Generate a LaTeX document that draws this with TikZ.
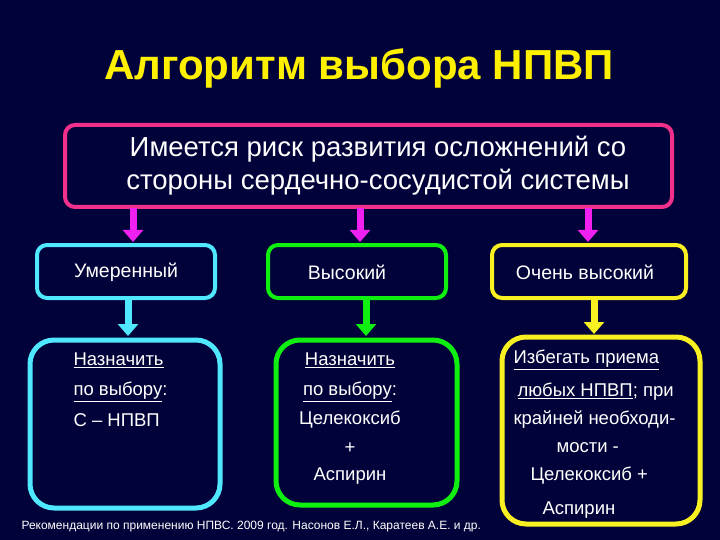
\documentclass[tikz,border=0pt]{standalone}
\usepackage{fontspec}
\setmainfont{Liberation Sans}
\usetikzlibrary{arrows.meta}
\definecolor{bg}{HTML}{02023A}
\definecolor{pk}{HTML}{F0308A}
\definecolor{mg}{HTML}{F020F0}
\definecolor{cy}{HTML}{50E8FF}
\definecolor{gr}{HTML}{10F010}
\definecolor{yl}{HTML}{F8F020}
\definecolor{ttl}{HTML}{FFF000}
\tikzset{
 bx/.style={draw=#1,line width=4pt,rounded corners=10pt,fill=bg},
 bbx/.style={draw=#1,line width=5pt,rounded corners=24pt,fill=bg},
 arr/.style={#1,line width=7pt,-{Triangle[width=20pt,length=12pt]}},
 tx/.style={text=white,font=\fontsize{18.5}{20}\selectfont},
 mx/.style={text=white,font=\fontsize{19.5}{22}\selectfont},
}
\begin{document}
\begin{tikzpicture}[x=1pt,y=-1pt]
\fill[bg] (0,0) rectangle (720,540);
\useasboundingbox (0,0) rectangle (720,540);
\node[text=ttl,font=\bfseries\fontsize{42}{46}\selectfont] (title) at (359,68) {Алгоритм выбора НПВП};
\draw[bx=pk] (65,125) rectangle (672,207);
\node[text=white,font=\fontsize{27.5}{33}\selectfont,align=center] (top) at (378,166) {Имеется риск развития осложнений со\\стороны сердечно-сосудистой системы};
\coordinate (t1) at (133,208); \coordinate (t2) at (360,208); \coordinate (t3) at (588,208);
\draw[bx=cy] (37,245) rectangle (215,298); \node[mx] (m1) at (126,272) {Умеренный};
\draw[bx=gr] (268,245) rectangle (446,298); \node[mx] (m2) at (347,272) {Высокий};
\draw[bx=yl] (492,245) rectangle (686,298); \node[mx] (m3) at (585,272) {Очень высокий};
\draw[arr=mg] (t1) -- (133,242);
\draw[arr=mg] (t2) -- (360,242);
\draw[arr=mg] (t3) -- (588,242);
\draw[bbx=cy] (30,340) rectangle (220,508);
\draw[bbx=gr] (276,340) rectangle (457,505);
\draw[bbx=yl] (502,337) rectangle (700,524);
\draw[arr=cy] (128,300) -- (128,336);
\draw[arr=gr] (366,300) -- (366,336);
\draw[arr=yl] (594,300) -- (594,334);
\node[tx,anchor=west] (c1) at (70,360) {\underline{Назначить}};
\node[tx,anchor=west] (c2) at (70,392) {\underline{по выбору}:};
\node[tx,anchor=west] (c3) at (70,420) {С – НПВП};
\node[tx] (g1) at (350,360) {\underline{Назначить}};
\node[tx] (g2) at (350,392) {\underline{по выбору}:};
\node[tx] (g3) at (350,420) {Целекоксиб};
\node[tx] (g4) at (350,448) {+};
\node[tx] (g5) at (350,476) {Аспирин};
\node[tx,anchor=west] (y1) at (510,360) {\underline{Избегать приема}};
\node[tx,anchor=west] (y2) at (514,392) {\underline{любых НПВП}; при};
\node[tx,anchor=west] (y3) at (510,420) {крайней необходи-};
\node[tx,anchor=west] (y4) at (553,448) {мости -};
\node[tx,anchor=west] (y5) at (527,476) {Целекоксиб +};
\node[tx,anchor=west] (y6) at (539,510) {Аспирин};
\node[text=white,font=\fontsize{12}{14}\selectfont,anchor=west] (foot) at (18,527) {Рекомендации по применению НПВС. 2009 год. Насонов Е.Л., Каратеев А.Е. и др.};
\end{tikzpicture}
\end{document}
